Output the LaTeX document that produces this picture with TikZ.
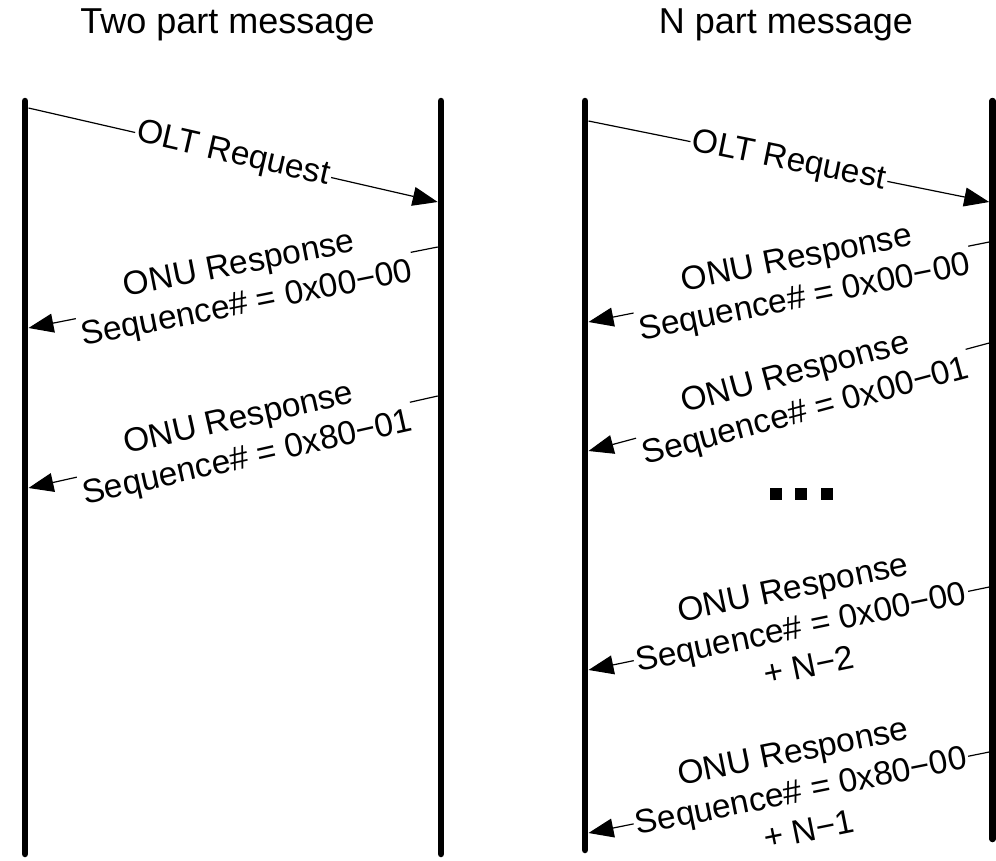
\documentclass[tikz,border=0pt]{standalone}
\usepackage{fontspec}
\setmainfont{Liberation Sans}
\usetikzlibrary{arrows.meta}
\begin{document}
\begin{tikzpicture}[x=1pt,y=-1pt,
  life/.style={line width=6.5pt, line cap=round},
  msg/.style={line width=1.2pt, -{Triangle[length=25pt,width=19pt]}},
  lbl/.style={sloped, fill=white, inner sep=2pt, align=center, font=\fontsize{33.5}{40}\selectfont},
  ttl/.style={font=\fontsize{36}{40}\selectfont, anchor=base},
  dotbox/.style={fill=black, minimum size=12pt, inner sep=0pt}]
\useasboundingbox (0,0) rectangle (996,860);
% titles
\node[ttl] (t1) at (227.5,33) {Two part message};
\node[ttl] (t2) at (786,33) {N part message};
% lifelines
\coordinate (L1t) at (25,101);   \coordinate (L1b) at (25,854);
\coordinate (R1t) at (441,101);  \coordinate (R1b) at (441,854);
\coordinate (L2t) at (585,101);  \coordinate (L2b) at (585,850);
\coordinate (R2t) at (992.5,101);\coordinate (R2b) at (992.5,839);
\draw[life] (L1t) -- (L1b);
\draw[life] (R1t) -- (R1b);
\draw[life] (L2t) -- (L2b);
\draw[life] (R2t) -- (R2b);
% message end points, left diagram
\coordinate (a1s) at (28.5,108);  \coordinate (a1e) at (437.7,202);
\coordinate (b1s) at (437.7,247); \coordinate (b1e) at (28.5,328);
\coordinate (c1s) at (437.7,396); \coordinate (c1e) at (28.5,488);
% message end points, right diagram
\coordinate (a2s) at (588.5,121); \coordinate (a2e) at (989.2,202);
\coordinate (b2s) at (989.2,242); \coordinate (b2e) at (588.5,322);
\coordinate (c2s) at (989.2,343); \coordinate (c2e) at (588.5,451);
\coordinate (d2s) at (989.2,587); \coordinate (d2e) at (588.5,670);
\coordinate (e2s) at (989.2,752); \coordinate (e2e) at (588.5,833);
% left diagram messages
\draw[msg] (a1s) -- node[lbl, pos=0.5] (la1) {OLT Request} (a1e);
\draw[msg] (b1s) -- node[lbl, pos=0.475] (lb1) {ONU Response\\Sequence\# = 0x00−00} (b1e);
\draw[msg] (c1s) -- node[lbl, pos=0.475] (lc1) {ONU Response\\Sequence\# = 0x80−01} (c1e);
% right diagram messages
\draw[msg] (a2s) -- node[lbl, pos=0.5] (la2) {OLT Request} (a2e);
\draw[msg] (b2s) -- node[lbl, pos=0.47] (lb2) {ONU Response\\Sequence\# = 0x00−00} (b2e);
\draw[msg] (c2s) -- node[lbl, pos=0.47] (lc2) {ONU Response\\Sequence\# = 0x00−01} (c2e);
\node[dotbox] (dot1) at (776,494) {};
\node[dotbox] (dot2) at (801,494) {};
\node[dotbox] (dot3) at (827,494) {};
\draw[msg] (d2s) -- node[lbl, pos=0.47] (ld2) {ONU Response\\Sequence\# = 0x00−00\\+ N−2} (d2e);
\draw[msg] (e2s) -- node[lbl, pos=0.47] (le2) {ONU Response\\Sequence\# = 0x80−00\\+ N−1} (e2e);
\end{tikzpicture}
\end{document}
